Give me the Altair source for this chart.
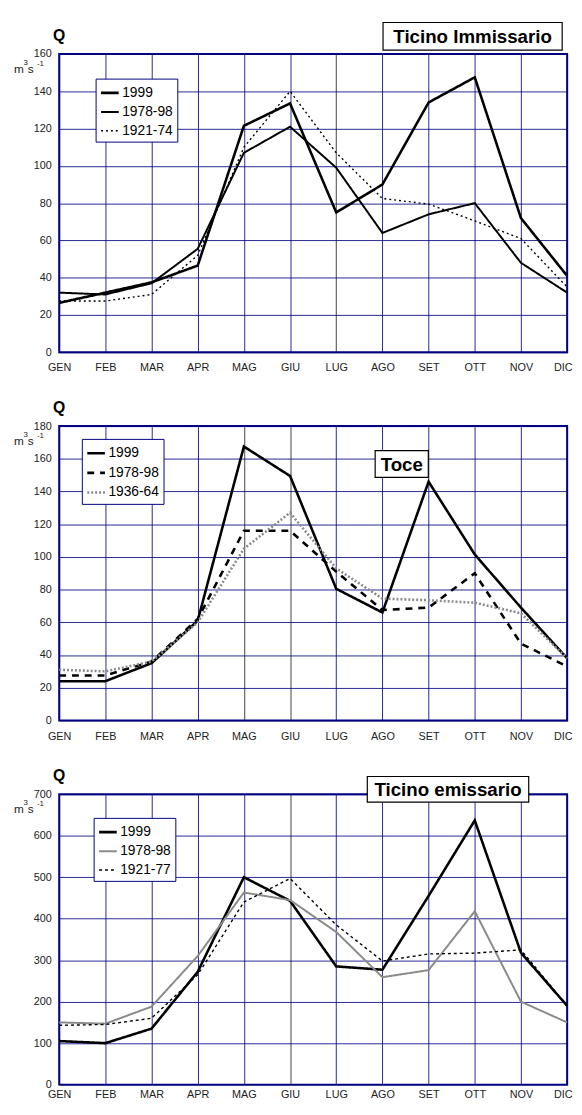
import altair as alt
import pandas as pd

# ---------------- data ----------------
months = ["GEN", "FEB", "MAR", "APR", "MAG", "GIU", "LUG", "AGO", "SET", "OTT", "NOV", "DIC"]

# Ticino Immissario
ti_labels = ["1999", "1978-98", "1921-74"]
ti_1999 = [26.5, 32, 37.5, 46.5, 121.5, 133.5, 75, 90, 134, 147.5, 72, 41]
ti_7898 = [32, 31, 37, 55.5, 107, 121, 99, 64, 74, 80, 48, 32]
ti_2174 = [27.5, 27.5, 31, 52, 110, 140, 107, 82.5, 79.5, 70.5, 61, 35]

# Toce
to_labels = ["1999", "1978-98", "1936-64"]
to_1999 = [24, 24, 35, 61, 167.5, 149.5, 80.5, 66, 146, 101.5, 69, 38]
to_7898 = [27.5, 27.5, 36, 62, 116, 116, 91, 67.5, 69, 90, 47, 33]
to_3664 = [31, 30, 36, 60, 105, 127, 93, 74.5, 73.5, 72, 65.5, 38]

# Ticino emissario
te_labels = ["1999", "1978-98", "1921-77"]
te_1999 = [105, 100, 135, 272, 500, 443, 285, 277, 455, 637, 318, 190]
te_7898 = [150, 147, 188, 310, 463, 445, 368, 259, 276, 418, 200, 150]
te_2177 = [143, 145, 160, 265, 440, 497, 385, 298, 315, 317, 325, 190]

FONT = "Liberation Sans"
NAVY = "#000080"


def make_df(labels, series):
    rows = []
    for lab, vals in zip(labels, series):
        for m, v in zip(months, vals):
            rows.append({"month": m, "value": v, "series": lab})
    return pd.DataFrame(rows)


def panel(df, labels, ymax, ystep, height, colors, dashes, widths,
          title, tbox, legxy, black_grid, xlabpad):
    legend = alt.Legend(
        title=None, orient="none", legendX=legxy[0], legendY=legxy[1],
        symbolType="stroke", symbolSize=320, labelFontSize=14, labelFont=FONT,
        labelColor="black", strokeColor=NAVY, fillColor="white", padding=4,
        rowPadding=2, labelOffset=2, cornerRadius=0,
    )
    grid_color = {
        "condition": {"test": "indexof(" + str(black_grid) + ", datum.value) >= 0",
                      "value": "#222222"},
        "value": NAVY,
    }
    base = alt.Chart(df)
    lines = base.mark_line().encode(
        x=alt.X("month:O", sort=months,
                scale=alt.Scale(type="point", padding=0),
                axis=alt.Axis(title=None, labelAngle=0, grid=True,
                              gridColor=grid_color, labelPadding=xlabpad,
                              labelAlign={"condition": {"test": "datum.value == 'DIC'", "value": "right"},
                                          "value": "center"},
                              labelOffset={"condition": {"test": "datum.value == 'DIC'", "value": 5},
                                           "value": 0})),
        y=alt.Y("value:Q", scale=alt.Scale(domain=[0, ymax], nice=False),
                axis=alt.Axis(title=None, values=list(range(0, ymax + 1, ystep)),
                              grid=True, labelPadding=8)),
        color=alt.Color("series:N", scale=alt.Scale(domain=labels, range=colors), legend=legend),
        strokeDash=alt.StrokeDash("series:N", scale=alt.Scale(domain=labels, range=dashes), legend=legend),
        strokeWidth=alt.StrokeWidth("series:N", scale=alt.Scale(domain=labels, range=widths), legend=legend),
    )
    ann = alt.Chart(pd.DataFrame({"t": [title]}))
    box = ann.mark_rect(fill="white", stroke="black", strokeWidth=1.2).encode(
        x=alt.value(tbox[0]), x2=alt.value(tbox[1]),
        y=alt.value(tbox[2]), y2=alt.value(tbox[3]))
    ttxt = ann.mark_text(font=FONT, fontSize=19, fontWeight="bold", color="black",
                         baseline="middle", align="center").encode(
        x=alt.value((tbox[0] + tbox[1]) / 2), y=alt.value((tbox[2] + tbox[3]) / 2 + 1),
        text="t:N")
    q = ann.mark_text(text="Q", font=FONT, fontSize=16, fontWeight="bold",
                      color="black", baseline="middle", align="center").encode(
        x=alt.value(0), y=alt.value(-18))
    um = ann.mark_text(text="m", font=FONT, fontSize=12, color="#222",
                       baseline="middle", align="center").encode(
        x=alt.value(-41), y=alt.value(15))
    u3 = ann.mark_text(text="3", font=FONT, fontSize=8, color="#222",
                       baseline="middle", align="center").encode(
        x=alt.value(-34), y=alt.value(9))
    us = ann.mark_text(text="s", font=FONT, fontSize=12, color="#222",
                       baseline="middle", align="center").encode(
        x=alt.value(-29), y=alt.value(15))
    u1 = ann.mark_text(text="-1", font=FONT, fontSize=8, color="#222",
                       baseline="middle", align="center").encode(
        x=alt.value(-19), y=alt.value(10))
    return alt.layer(lines, box, ttxt, q, um, u3, us, u1).properties(width=516, height=height)


p1 = panel(make_df(ti_labels, [ti_1999, ti_7898, ti_2174]), ti_labels, 160, 20, 303,
           ["black", "black", "black"], [[1, 0], [1, 0], [2, 3]], [2.6, 1.4, 1.6],
           "Ticino Immissario", (329, 511, -32, -4), (37, 25), ["LUG"], 10)
p2 = panel(make_df(to_labels, [to_1999, to_7898, to_3664]), to_labels, 180, 20, 299,
           ["black", "black", "#8a8a8a"], [[1, 0], [7, 6], [2, 2]], [2.6, 2.6, 1.5],
           "Toce", (321, 375, 25, 52), (23, 13), ["MAG", "GIU"], 10)
p3 = panel(make_df(te_labels, [te_1999, te_7898, te_2177]), te_labels, 700, 100, 295,
           ["black", "#8a8a8a", "black"], [[1, 0], [1, 0], [3, 3]], [2.6, 1.4, 1.6],
           "Ticino emissario", (313, 477, -18, 8), (35, 24), ["GIU"], 4)

chart = alt.vconcat(p1, p2, p3, spacing=75, bounds="flush").resolve_scale(
    color="independent", strokeDash="independent", strokeWidth="independent"
).resolve_legend(
    color="independent", strokeDash="independent", strokeWidth="independent"
).properties(
    padding={"left": 5, "top": 4, "right": 0, "bottom": 0}
).configure_view(
    stroke=NAVY, strokeWidth=2
).configure_axis(
    labelFont=FONT, labelFontSize=11, labelColor="#222", ticks=False, domain=False,
    gridColor=NAVY, gridWidth=1, gridOpacity=0.85
)

chart.save("out.html", embed_options={"renderer": "svg", "actions": False})
